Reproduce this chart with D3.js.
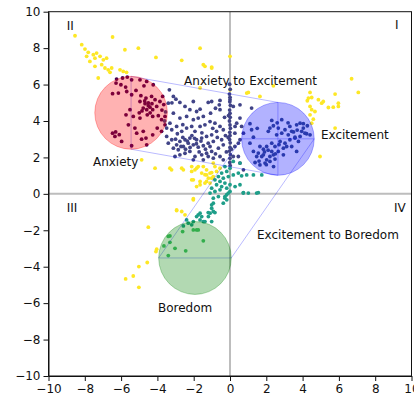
<!DOCTYPE html>
<html>
<head>
<meta charset="utf-8">
<script src="https://cdn.jsdelivr.net/npm/d3@7/dist/d3.min.js"></script>
<style>
  html, body { margin: 0; padding: 0; background: #fff; }
  svg { display: block; font-family: "DejaVu Sans", sans-serif; }
</style>
</head>
<body>
<svg id="chart" width="414" height="401"></svg>
<script>
// ---- data ---------------------------------------------------------------
const xTicks = [-10, -8, -6, -4, -2, 0, 2, 4, 6, 8, 10];
const yTicks = [-10, -8, -6, -4, -2, 0, 2, 4, 6, 8, 10];

// emotion states: centre and radius in valence/arousal units
const states = ["Anxiety", "Excitement", "Boredom"];
const stateX = [-5.45, 2.64, -1.93];
const stateY = [4.45, 3.02, -3.52];
const stateR = [2, 2, 2];

// transitions between states (indices into states)
const transitions = [[0, 1], [1, 2]];

const anxietyPts = [
  [-6.25,6.30],[-5.92,6.36],[-5.66,6.41],[-5.42,6.26],[-4.96,6.26],[-4.59,6.17],[-6.28,6.08],[-6.01,5.99],
  [-5.75,5.86],[-5.18,5.68],[-4.74,5.93],[-4.23,5.99],[-6.47,5.50],[-6.15,5.53],[-5.69,5.62],[-5.42,5.44],
  [-4.91,5.39],[-4.63,5.26],[-4.32,5.35],[-4.13,5.17],[-3.71,5.35],[-4.96,5.07],[-4.68,4.95],[-4.50,4.84],
  [-4.78,4.71],[-4.59,4.62],[-4.41,4.76],[-4.26,4.62],[-4.04,4.80],[-3.86,5.07],[-5.51,4.62],[-5.73,4.34],
  [-5.33,4.25],[-4.96,4.16],[-4.56,4.34],[-4.26,4.25],[-3.95,4.29],[-3.77,4.07],[-3.58,4.25],[-3.58,3.79],
  [-3.77,3.43],[-4.01,3.61],[-4.26,3.24],[-4.63,3.06],[-5.24,3.61],[-5.60,3.79],[-6.47,3.33],[-6.34,3.15],
  [-5.97,2.88],[-5.42,2.64],[-4.87,3.00],[-4.59,2.69],[-4.78,3.43],[-5.14,3.33],[-4.70,5.10],[-4.50,5.00],
  [-4.85,4.55],[-4.30,4.95],[-5.00,4.45],[-4.40,4.45],[-6.30,3.40],[-6.10,3.25],[-3.75,4.60],[-3.65,4.90]
];

const anxToExcPts = [
  [-3.34,5.71],[-3.12,5.35],[-2.98,5.20],[-3.40,4.98],[-2.76,5.02],[-2.48,4.80],[-2.02,5.07],[-2.21,4.62],
  [-1.84,4.52],[-1.65,4.65],[-1.20,5.02],[-1.01,5.07],[-0.55,5.13],[-0.59,4.89],[-0.55,4.62],[-1.07,4.43],
  [-1.47,4.25],[-1.75,4.16],[-2.02,4.07],[-2.39,4.25],[-2.76,4.16],[-3.12,4.43],[-3.31,3.88],[-3.49,3.61],
  [-3.21,3.52],[-2.94,3.70],[-2.66,3.43],[-2.39,3.61],[-2.11,3.70],[-1.93,3.43],[-1.65,3.70],[-1.38,3.79],
  [-1.10,3.97],[-0.83,3.88],[-0.55,3.70],[-0.37,3.52],[-0.74,3.43],[-1.01,3.24],[-1.29,3.15],[-1.56,3.06],
  [-1.84,2.97],[-2.21,3.06],[-2.48,2.97],[-2.76,2.88],[-2.94,2.69],[-3.21,2.97],[-3.49,3.15],[-3.40,2.78],
  [-3.12,2.51],[-2.85,2.42],[-2.57,2.60],[-2.30,2.78],[-2.02,2.69],[-1.75,2.56],[-1.47,2.64],[-1.20,2.78],
  [-0.92,2.88],[-0.46,2.97],[-0.37,2.69],[-0.64,2.51],[-1.01,2.33],[-1.29,2.23],[-1.56,2.14],[-1.93,2.05],
  [-2.21,2.33],[-2.48,2.23],[-2.76,2.14],[-3.03,2.05],[-2.02,1.87],[-1.47,1.87],[-0.92,1.96],[-0.55,2.05],
  [-0.37,1.87],[0.27,2.60],[0.37,3.88],[0.27,3.33],[0.55,2.97],[0.46,2.05],[0.64,3.70],[0.18,4.80],
  [0.00,5.17],[0.55,4.89],
  [-2.90,3.30],[-2.60,3.10],[-2.35,2.90],[-2.10,3.20],[-1.85,2.75],[-1.60,2.90],[-1.35,2.45],[-1.10,2.60],
  [-2.70,2.60],[-2.45,2.45],[-1.70,2.30],[-1.20,2.05],[-0.80,2.20],[-0.70,3.10],[-3.00,3.00],[-2.20,2.55],
  [-1.95,3.05],[-1.55,3.35],[-0.95,3.60],[-0.25,3.20],[-0.20,2.30],[-0.30,4.20],[-0.80,4.70],[-2.60,3.80],
  [-3.60,4.00],[-3.55,4.50],[-3.20,5.00],
  [-0.02,6.02],[0.01,5.74],[-0.03,5.48],[0.00,5.30],[-0.01,5.05],[0.02,4.86],[-0.02,4.60],[0.00,4.42],
  [0.01,4.20],[-0.03,4.00],[0.00,3.78],[0.02,3.60],[-0.01,3.38],[0.00,3.20],[-0.02,2.98],[0.01,2.80],
  [0.00,2.55],[-0.03,2.35],[0.02,2.15],[0.00,1.95],[-0.01,1.72],[0.01,1.55],[-0.10,3.10],[0.08,2.45],
  [-0.08,4.30],
  [1.19,4.71],[0.55,4.16],[0.28,3.70],[0.74,3.33],[0.46,2.78],[0.55,1.69],[0.18,2.05],[0.74,1.32]
];

const excitementPts = [
  [2.30,4.03],[2.85,4.07],[2.39,3.74],[2.66,3.61],[3.03,3.52],[3.30,3.70],[3.40,3.43],[3.67,3.79],
  [3.86,3.88],[4.04,3.85],[4.26,3.74],[4.41,3.24],[4.13,3.33],[3.86,3.15],[3.58,3.11],[3.21,3.24],
  [2.85,3.33],[2.57,3.24],[2.20,3.61],[2.11,3.43],[1.10,3.85],[1.19,3.52],[1.29,3.11],[1.10,2.78],
  [1.29,2.33],[1.65,2.60],[1.84,2.45],[2.02,2.60],[2.30,2.78],[2.48,2.60],[2.76,2.88],[3.03,2.78],
  [3.30,2.97],[3.58,3.06],[3.77,2.88],[3.40,2.60],[3.67,2.33],[2.94,2.51],[2.66,2.33],[2.39,2.14],
  [2.20,2.05],[2.02,1.87],[1.75,2.05],[1.47,2.05],[1.38,1.72],[1.65,1.59],[1.93,1.69],[2.20,1.78],
  [2.48,1.91],[2.94,2.14],[3.12,2.60],[2.30,2.33],[1.84,2.14],[1.56,2.24],[3.95,3.43],[4.22,3.30],
  [4.04,3.61],[2.50,2.20],[2.10,2.40],[1.90,2.30],[2.70,2.70],[3.50,3.40],[3.70,3.50],[1.60,1.80],
  [2.00,1.60],[2.40,1.50],[3.20,3.90],[2.60,3.90],[1.50,3.60]
];

const excToBorPts = [
  [-0.28,1.50],[0.00,1.41],[-0.18,1.23],[-0.46,1.14],[-0.64,0.95],[-0.37,0.86],[-0.09,0.95],[0.18,1.04],
  [0.46,1.14],[0.64,0.99],[0.92,1.04],[-0.28,0.59],[-0.55,0.68],[-0.83,0.77],[-0.74,0.50],[-0.46,0.40],
  [-0.18,0.31],[0.00,0.50],[0.28,0.40],[0.55,0.50],[0.00,0.13],[-0.18,-0.05],[-0.09,0.04],[-0.28,-0.15],
  [-0.55,0.22],[-0.83,0.13],[-1.01,0.31],[-1.10,0.04],[-0.92,-0.24],[-0.64,-0.15],[0.73,0.04],[1.01,0.04],
  [1.47,0.04],[-0.18,-0.33],[-0.37,-0.51],[-0.92,-0.51],[-1.01,-0.79],[-1.10,-1.06],[-1.19,-1.25],[-0.92,-0.97],
  [-1.01,-1.52],[-2.02,-1.52],[-2.11,-1.70],[-1.75,-1.15],[-2.39,-1.43],[-1.65,-1.43],[-1.47,-1.52],[0.55,1.69],
  [0.18,1.78],[1.29,1.04],[1.75,1.04],[1.56,0.07],[0.74,0.07],[-1.01,-0.60],[-1.20,-1.03],[-0.83,-1.03],
  [-1.65,-1.06],[-1.84,-1.25],[-1.56,-1.25],[-1.38,-1.52],[-2.30,-1.61],[-2.57,-1.76],[-0.28,-0.24]
];

const boredomPts = [
  [-1.84,-1.98],[-2.02,-1.98],[-1.75,-1.98],[-2.61,-2.07],[-3.31,-2.31],[-3.40,-2.34],[-1.47,-2.58],
  [-3.31,-2.66],[-3.03,-2.99],[-2.44,-3.13],[-3.40,-3.39],[-3.64,-2.86]
];

const otherPts = [
  [-8.54,8.68],[-6.47,8.61],[-5.79,7.91],[-5.05,8.00],[-4.08,7.49],[-2.66,7.33],[-1.65,8.00],[-1.38,7.00],
  [-1.01,6.91],[-7.99,7.95],[-7.81,7.77],[-7.53,7.64],[-7.72,7.27],[-7.44,7.45],[-7.16,7.55],[-6.98,7.36],
  [-6.80,7.45],[-7.44,7.00],[-7.07,7.09],[-6.89,6.91],[-6.71,6.81],[-6.52,6.91],[-6.61,6.67],[-5.88,6.72],
  [-5.70,6.67],[-7.26,6.36],[-6.06,6.81],[-7.35,7.73],[-7.90,7.55],[-8.17,8.19],
  [-4.13,1.41],[-3.22,1.32],[-2.57,1.32],[-2.11,1.23],[-1.84,1.41],[-1.47,1.50],[-1.29,1.32],[-1.10,1.14],
  [-0.83,1.50],[-0.92,1.69],[-0.74,1.23],[-4.87,1.87],[-2.02,0.77],[-1.65,0.68],[-1.84,0.40],[-1.29,0.68],
  [-1.01,0.86],[-1.38,1.05],[-0.55,1.41],
  [-3.31,1.41],[-2.66,1.41],[-2.11,1.50],[-1.93,1.32],[-1.75,1.50],[-1.56,1.14],[-1.29,1.04],[-1.01,1.17],
  [-0.92,0.95],[-1.19,0.86],[-1.38,0.59],[-1.10,0.59],[-1.65,0.50],[-2.02,-0.33],[-2.94,-0.88],[-2.66,-0.97],
  [-2.48,-1.15],[-2.11,0.77],
  [-2.02,-0.27],[-2.94,-0.92],[-4.50,-1.83],[-4.04,-3.04],[-4.08,-3.17],[-4.56,-3.77],[-5.02,-3.99],
  [-5.33,-4.51],[-5.75,-4.67],[-5.02,-5.13],
  [0.00,7.55],[0.00,5.71],[1.01,5.57],[2.39,5.93],[1.65,5.35],[6.70,6.32],[7.07,5.57],[5.79,5.48],
  [4.41,5.57],[4.50,5.29],[4.26,5.11],[4.87,5.17],[5.05,4.98],[5.42,4.74],[5.69,4.76],[5.97,4.80],
  [5.97,4.98],[4.50,4.62],[4.68,4.52],[4.41,4.34],[4.59,4.10],[4.50,3.88],[5.79,3.61],[4.96,2.05],
  [4.32,5.26],[5.14,5.07],[4.41,4.80],
  [-1.47,7.09],[-1.01,6.96],[-1.65,5.81],[0.92,5.53]
];

const groups = ["other", "anxiety", "anxToExc", "excitement", "excToBor", "boredom"];
const groupPts = [otherPts, anxietyPts, anxToExcPts, excitementPts, excToBorPts, boredomPts];

const labelTexts = ["Anxiety to Excitement", "Anxiety", "Excitement", "Boredom",
                    "Excitement to Boredom", "I", "II", "III", "IV"];
const labelX = [-2.53, -7.55, 5.01, -3.97, 1.49, 9.09, -9.0, -9.0, 9.04];
const labelY = [6.23, 1.76, 3.24, -6.26, -2.25, 9.26, 9.23, -0.74, -0.77];

// ---- styling ------------------------------------------------------------
const groupColor = {
  other: "#fde725", anxiety: "#440154", anxToExc: "#414487",
  excitement: "#3b528b", excToBor: "#1f9e89", boredom: "#4ac16d"
};
const stateColor = ["#ff0000", "#0000ff", "#008000"];

// ---- layout -------------------------------------------------------------
const W = 414, H = 401;
const m = { left: 48.5, right: 2.5, top: 11.7, bottom: 25 };
const svg = d3.select("#chart");
svg.append("rect").attr("width", W).attr("height", H).attr("fill", "#fff");

const x = d3.scaleLinear().domain([-10, 10]).range([m.left, W - m.right]);
const y = d3.scaleLinear().domain([-10, 10]).range([H - m.bottom, m.top]);

const plot = svg.append("g");
plot.append("clipPath").attr("id", "clip").append("rect")
  .attr("x", m.left).attr("y", m.top)
  .attr("width", W - m.right - m.left).attr("height", H - m.bottom - m.top);
const inner = plot.append("g").attr("clip-path", "url(#clip)");

// quadrant axes through the origin
inner.append("line")
  .attr("x1", x(-10)).attr("x2", x(10)).attr("y1", y(0)).attr("y2", y(0))
  .attr("stroke", "#bdbdbd").attr("stroke-width", 2);
inner.append("line")
  .attr("x1", x(0)).attr("x2", x(0)).attr("y1", y(-10)).attr("y2", y(10))
  .attr("stroke", "#bdbdbd").attr("stroke-width", 2);

// scattered samples
groups.forEach((g, i) => {
  inner.append("g").selectAll("circle").data(groupPts[i]).join("circle")
    .attr("cx", d => x(d[0])).attr("cy", d => y(d[1]))
    .attr("r", 1.9).attr("fill", groupColor[g]);
});

// transition bands between two states
transitions.forEach(([a, b]) => {
  const dx = Math.abs(stateX[b] - stateX[a]);
  const dy = Math.abs(stateY[b] - stateY[a]);
  let poly;
  if (dx >= dy) {
    poly = [[stateX[a], stateY[a] + stateR[a]], [stateX[b], stateY[b] + stateR[b]],
            [stateX[b], stateY[b] - stateR[b]], [stateX[a], stateY[a] - stateR[a]]];
  } else {
    poly = [[stateX[a] - stateR[a], stateY[a]], [stateX[a] + stateR[a], stateY[a]],
            [stateX[b] + stateR[b], stateY[b]], [stateX[b] - stateR[b], stateY[b]]];
  }
  inner.append("polygon")
    .attr("points", poly.map(p => [x(p[0]), y(p[1])].join(",")).join(" "))
    .attr("fill", "none")
    .attr("stroke", "#0000ff").attr("stroke-opacity", 0.3).attr("stroke-width", 0.9);
});

// state discs
states.forEach((s, i) => {
  inner.append("ellipse")
    .attr("cx", x(stateX[i])).attr("cy", y(stateY[i]))
    .attr("rx", x(stateR[i]) - x(0)).attr("ry", y(0) - y(stateR[i]))
    .attr("fill", stateColor[i]).attr("fill-opacity", 0.3)
    .attr("stroke", stateColor[i]).attr("stroke-opacity", 0.3).attr("stroke-width", 1);
});

// annotations
labelTexts.forEach((t, i) => {
  inner.append("text")
    .attr("x", x(labelX[i])).attr("y", y(labelY[i]))
    .attr("dy", "0.35em")
    .attr("font-size", 12).attr("fill", "#111")
    .text(t);
});

// axes
const fmt = d => d < 0 ? "\u2212" + Math.abs(d) : String(d);
const xAxis = svg.append("g").attr("transform", `translate(0,${H - m.bottom})`)
  .call(d3.axisBottom(x).tickValues(xTicks).tickFormat(fmt).tickSizeInner(5).tickSizeOuter(0).tickPadding(3));
const yAxis = svg.append("g").attr("transform", `translate(${m.left},0)`)
  .call(d3.axisLeft(y).tickValues(yTicks).tickFormat(fmt).tickSizeInner(5).tickSizeOuter(0).tickPadding(3));
[xAxis, yAxis].forEach(a => {
  a.selectAll("text").attr("font-size", 12).attr("font-family", "DejaVu Sans, sans-serif").attr("fill", "#111");
  a.selectAll("line").attr("stroke", "#111");
  a.select(".domain").attr("stroke", "#111");
});

// frame
svg.append("rect")
  .attr("x", m.left).attr("y", m.top)
  .attr("width", W - m.right - m.left).attr("height", H - m.bottom - m.top)
  .attr("fill", "none").attr("stroke", "#111").attr("stroke-width", 1);
</script>
</body>
</html>
